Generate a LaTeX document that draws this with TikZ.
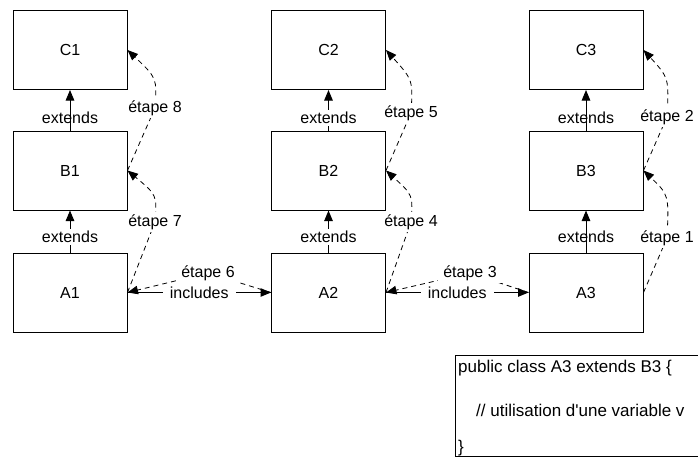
\documentclass[tikz,border=0pt]{standalone}
\usepackage{fontspec}
\setmainfont{Liberation Sans}
\newfontfamily\codefont{Liberation Sans}
\usetikzlibrary{arrows.meta}
\begin{document}
\begin{tikzpicture}[x=1pt,y=-1pt,
  every node/.style={font=\fontsize{16}{19}\selectfont},
  box/.style={draw, line width=1pt, minimum width=114pt, minimum height=79pt, inner sep=0pt},
  arr/.style={line width=1pt, -{Triangle[length=10.5pt,width=8.5pt]}},
  dsh/.style={line width=0.8pt, dash pattern=on 5pt off 4pt, -{Triangle[length=10.5pt,width=8.5pt]}},
  lbl/.style={fill=white, inner xsep=5pt, inner ysep=2pt},
  plainlbl/.style={inner sep=1pt},
  codeline/.style={anchor=west, inner sep=0pt, font=\codefont\fontsize{17}{20}\selectfont}]
\useasboundingbox (0,0) rectangle (698,464);

% boxes
\node[box] (C1) at (70,50) {C1};
\node[box] (B1) at (70,170.5) {B1};
\node[box] (A1) at (70,292.5) {A1};
\node[box] (C2) at (328.5,50) {C2};
\node[box] (B2) at (328.5,170.5) {B2};
\node[box] (A2) at (328.5,292.5) {A2};
\node[box] (C3) at (586,50) {C3};
\node[box] (B3) at (586,170.5) {B3};
\node[box] (A3) at (586,292.5) {A3};

% extends
\draw[arr] (B1.north) -- node[pos=0.31, plainlbl]{extends} (C1.south);
\draw[arr] (A1.north) -- node[pos=0.37, lbl, inner xsep=1pt]{extends} (B1.south);
\draw[arr] (B2.north) -- node[pos=0.31, lbl, inner xsep=1pt]{extends} (C2.south);
\draw[arr] (A2.north) -- node[pos=0.37, lbl, inner xsep=1pt]{extends} (B2.south);
\draw[arr] (B3.north) -- node[pos=0.31, plainlbl]{extends} (C3.south);
\draw[arr] (A3.north) -- node[pos=0.37, plainlbl]{extends} (B3.south);

% steps (dashed)
\draw[dsh] (A1.east) -- (155,222) node[lbl]{étape 7} .. controls (157,195) .. (B1.east);
\draw[dsh] (B1.east) -- (155,108) node[lbl]{étape 8} .. controls (157,78) .. (C1.east);
\draw[dsh] (A2.east) -- (411,222) node[lbl]{étape 4} .. controls (413,195) .. (B2.east);
\draw[dsh] (B2.east) -- (411,113) node[lbl]{étape 5} .. controls (413,80) .. (C2.east);
\draw[dsh] (A3.east) -- (667,238) node[lbl]{étape 1} .. controls (669,195) .. (B3.east);
\draw[dsh] (B3.east) -- (667,117) node[lbl]{étape 2} .. controls (669,78) .. (C3.east);

\draw[dsh] (A2.west) -- (208,273) node[lbl]{étape 6} -- (A1.east);
\draw[dsh] (A3.west) -- (470,273) node[lbl]{étape 3} -- (A2.east);

% includes
\draw[arr] (A1.east) -- node[lbl, inner xsep=7pt]{includes} (A2.west);
\draw[arr] (A2.east) -- node[lbl, inner xsep=7pt]{includes} (A3.west);

% code box
\draw[line width=1pt] (698,355) -- (455,355) -- (455,456) -- (698,456);
\node[codeline] (l1) at (458,368) {public class A3 extends B3 \{};
\node[codeline] (l2) at (476,410) {// utilisation d'une variable v};
\node[codeline] (l3) at (458,448) {\}};
\end{tikzpicture}
\end{document}
